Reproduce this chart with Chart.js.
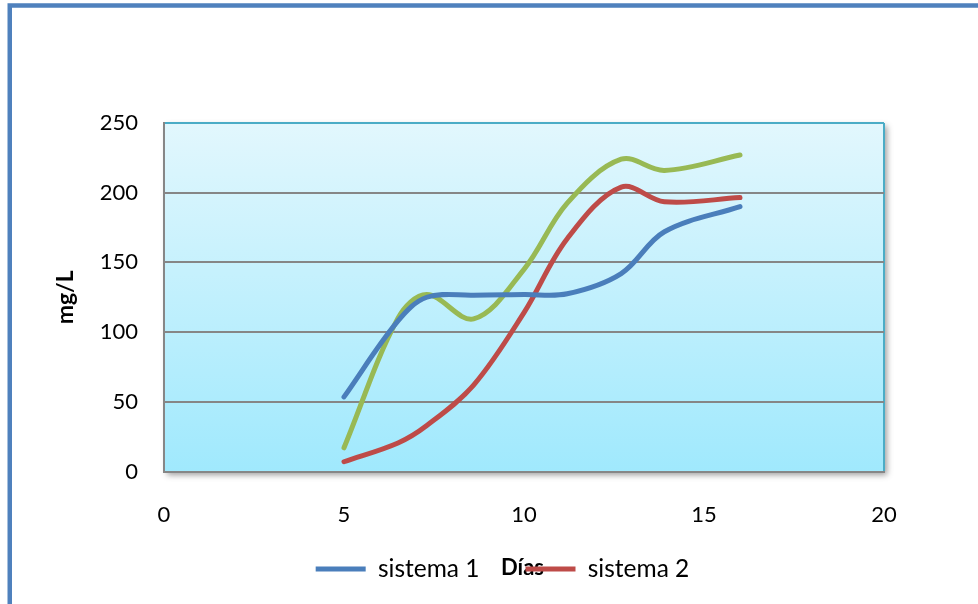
<!DOCTYPE html>
<html>
<head>
<meta charset="utf-8">
<title>mg/L por días</title>
<script src="https://cdn.jsdelivr.net/npm/chart.js@4.4.1/dist/chart.umd.min.js"></script>
<style>
  html, body { margin: 0; padding: 0; background: #ffffff; }
  #chart { display: block; }
</style>
</head>
<body>
<canvas id="chart" width="978" height="604"></canvas>
<script>
// Días de muestreo y concentraciones (mg/L) de cada sistema
const dias = [5, 6.5, 7.3, 8.6, 10, 11.2, 12.7, 13.9, 16];
const sistema1 = [53.5, 108, 125, 126.5, 127, 127.5, 142, 172, 190];
const sistema2 = [7, 20.5, 33, 62, 114, 167, 204, 193.5, 196.5];
const sistema3 = [17, 110, 127, 109.5, 145, 192.5, 224, 216, 227];

const seriesNames = ['sistema 1', 'sistema 2', 'sistema 3'];
const seriesColors = ['#4a7ebb', '#be4b48', '#98b954'];
const xTicks = [0, 5, 10, 15, 20];
const yTicks = [0, 50, 100, 150, 200, 250];

const xTitle = 'Días';
const yTitle = 'mg/L';

// tamaño de letra y separación de la leyenda
const legendFont = 24.5;
const legendPad = 46;

const toPoints = vals => dias.map((d, i) => ({ x: d, y: vals[i] }));

// Marco exterior, fondo degradado del área de trazado y títulos de ejes
const decoracion = {
  id: 'decoracion',
  afterLayout(chart) {
    // la leyenda queda con su línea a 97.5 px bajo el área de trazado
    const lg = chart.legend;
    const a = chart.chartArea;
    const dy = (a.bottom + 97.5 - legendPad - legendFont / 2) - lg.top;
    lg.top += dy;
    lg.bottom += dy;
    lg.left = 121;
    lg.right = 884;
  },
  beforeDraw(chart) {
    const { ctx, chartArea: a } = chart;
    ctx.save();

    ctx.strokeStyle = '#4f81bd';
    ctx.lineWidth = 4.5;
    ctx.strokeRect(9.75, 5.5, 1400, 1400);

    ctx.shadowColor = 'rgba(0,0,0,0.38)';
    ctx.shadowBlur = 6;
    ctx.shadowOffsetX = 3;
    ctx.shadowOffsetY = 3;
    const g = ctx.createLinearGradient(0, a.top, 0, a.bottom);
    g.addColorStop(0, '#e2f7fd');
    g.addColorStop(1, '#a0e9fd');
    ctx.fillStyle = g;
    ctx.fillRect(a.left, a.top, a.right - a.left, a.bottom - a.top);
    ctx.shadowColor = 'transparent';

    ctx.strokeStyle = '#4bacc6';
    ctx.lineWidth = 2;
    ctx.beginPath();
    ctx.moveTo(a.right, a.top);
    ctx.lineTo(a.right, a.bottom);
    ctx.stroke();

    ctx.fillStyle = '#000000';
    ctx.textAlign = 'center';
    ctx.textBaseline = 'middle';
    ctx.font = 'bold 22px Lato';
    ctx.fillText(xTitle, (a.left + a.right) / 2 - 1.5, a.bottom + 96);

    ctx.translate(66, (a.top + a.bottom) / 2);
    ctx.rotate(-Math.PI / 2);
    ctx.font = 'bold 23px Lato';
    ctx.fillText(yTitle, 0, 0);
    ctx.restore();
  }
};

function build() {
  const datasets = [sistema1, sistema2, sistema3].map((vals, i) => ({
    label: seriesNames[i],
    data: toPoints(vals),
    borderColor: seriesColors[i],
    backgroundColor: seriesColors[i],
    borderWidth: 5,
    borderCapStyle: 'round',
    borderJoinStyle: 'round',
    pointRadius: 0,
    pointHoverRadius: 0,
    pointStyle: 'line',
    tension: 0.35,
    fill: false
  }));

  // alto ocupado bajo el área de trazado: eje X (60) + leyenda + relleno = 132.5
  const legendHeight = legendFont + legendPad + 10;

  new Chart(document.getElementById('chart'), {
    type: 'line',
    data: { datasets },
    plugins: [decoracion],
    options: {
      responsive: false,
      animation: false,
      devicePixelRatio: 1,
      layout: { padding: { left: 49, right: 94, top: 123, bottom: 132.5 - 60 - legendHeight } },
      plugins: {
        tooltip: { enabled: false },
        legend: {
          position: 'bottom',
          labels: {
            filter: item => item.datasetIndex < 2,
            usePointStyle: true,
            pointStyleWidth: 50,
            padding: legendPad,
            color: '#000000',
            font: { family: 'Lato', size: legendFont }
          }
        }
      },
      scales: {
        x: {
          type: 'linear',
          min: 0,
          max: 20,
          afterBuildTicks: s => { s.ticks = xTicks.map(v => ({ value: v })); },
          afterFit: s => { s.height = 60; },
          grid: { display: false, drawTicks: false },
          border: { display: true, color: '#868686', width: 2 },
          ticks: {
            padding: 30,
            color: '#000000',
            font: { family: 'Lato', size: 22 }
          }
        },
        y: {
          min: 0,
          max: 250,
          afterBuildTicks: s => { s.ticks = yTicks.map(v => ({ value: v })); },
          afterFit: s => { s.width = 115; },
          grid: {
            drawTicks: false,
            lineWidth: 2,
            color: c => (c.tick && c.tick.value === 250 ? '#4bacc6' : '#868686')
          },
          border: { display: true, color: '#868686', width: 2 },
          ticks: {
            padding: 26,
            color: '#000000',
            font: { family: 'Lato', size: 22 }
          }
        }
      }
    }
  });
}

Promise.all([
  document.fonts.load('22px Lato'),
  document.fonts.load('bold 22px Lato')
]).then(build, build);
</script>
</body>
</html>
